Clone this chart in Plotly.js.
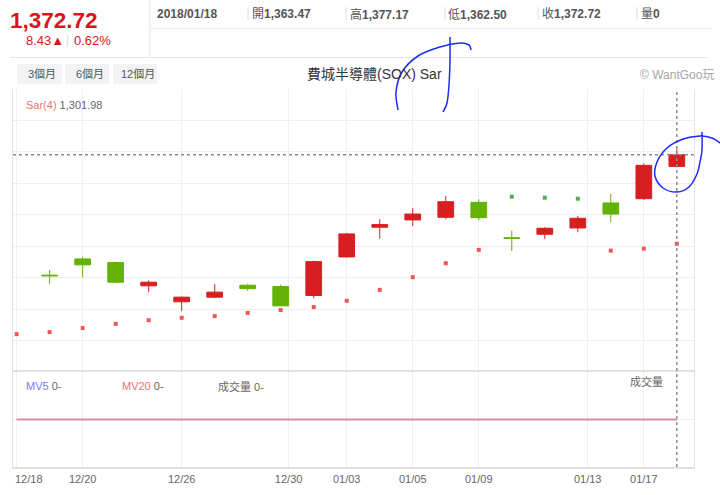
<!DOCTYPE html>
<html>
<head>
<meta charset="utf-8">
<script src="https://cdn.plot.ly/plotly-3.0.1.min.js"></script>
<style>
html,body{margin:0;padding:0;background:#fff;}
#chart{width:720px;height:495px;}
</style>
</head>
<body>
<div id="chart"></div>
<script>
// ---- data ----
const dates = ['12/18','12/19','12/20','12/21','12/22','12/26','12/27','12/28','12/29','01/02','01/03','01/04','01/05','01/08','01/09','01/10','01/11','01/12','01/16','01/17','01/18'];
const openVals  = [null,1277.0,1289.9,1287.0,1268.5,1255.8,1259.5,1269.0,1267.9,1260.8,1291.5,1315.1,1320.9,1323.0,1334.9,1306.7,1309.5,1314.5,1334.4,1337.8,1363.47];
const highVals  = [null,1281.2,1291.7,1287.8,1272.7,1260.0,1269.8,1270.1,1269.5,1288.6,1310.6,1321.4,1330.4,1339.9,1337.3,1312.4,1315.1,1324.1,1341.5,1365.9,1377.17];
const lowVals   = [null,1270.1,1275.1,1270.6,1263.5,1248.6,1258.7,1264.5,1252.3,1258.7,1291.0,1306.0,1316.1,1321.4,1320.6,1296.3,1305.6,1311.1,1319.1,1336.8,1362.50];
const closeVals = [null,1276.5,1285.2,1271.4,1271.4,1259.5,1263.5,1266.3,1252.6,1287.8,1309.8,1317.2,1325.6,1335.4,1322.7,1306.3,1314.3,1322.2,1325.6,1364.29,1372.72];
const sarVals   = [1230.1,1231.7,1234.9,1238.3,1241.2,1243.1,1244.4,1247.0,1249.2,1251.6,1256.6,1265.3,1275.4,1286.5,1297.1,1339.4,1338.6,1337.8,1296.5,1298.1,1301.98];
const volumeVals = [0,0,0,0,0,0,0,0,0,0,0,0,0,0,0,0,0,0,0,0,0];
const mv5Vals    = [0,0,0,0,0,0,0,0,0,0,0,0,0,0,0,0,0,0,0,0,0];
const mv20Vals   = [0,0,0,0,0,0,0,0,0,0,0,0,0,0,0,0,0,0,0,0,0];
const tickPos    = [0,2,5,8.24,10,12,14,17.3,19];
const tickLabels = ['12/18','12/20','12/26','12/30','01/03','01/05','01/09','01/13','01/17'];
const titleText = '費城半導體(SOX) Sar';
const fullDate = '2018/01/18';

// ---- helpers ----
const idx = dates.map((d,i)=>i);
const W=720,H=495,L=13,R=26,T=89,B=28;
const pw=W-L-R, ph=H-T-B;
const fx=x=>(x-L)/pw, fy=y=>(H-B-y)/ph;
const fmt=v=>v.toLocaleString('en-US',{minimumFractionDigits:2,maximumFractionDigits:2});
const n=dates.length-1;
const lastC=closeVals[n], prevC=closeVals[n-1];
const chg=lastC-prevC, pct=chg/prevC*100;
const FONT='"Liberation Sans", Arial, "Noto Sans CJK TC", sans-serif';

function smoothPath(pts){
  let d='M'+fx(pts[0][0])+','+fy(pts[0][1]);
  for(let i=0;i<pts.length-1;i++){
    const p0=pts[Math.max(0,i-1)],p1=pts[i],p2=pts[i+1],p3=pts[Math.min(pts.length-1,i+2)];
    const c1=[p1[0]+(p2[0]-p0[0])/6,p1[1]+(p2[1]-p0[1])/6];
    const c2=[p2[0]-(p3[0]-p1[0])/6,p2[1]-(p3[1]-p1[1])/6];
    d+=' C'+fx(c1[0])+','+fy(c1[1])+' '+fx(c2[0])+','+fy(c2[1])+' '+fx(p2[0])+','+fy(p2[1]);
  }
  return d;
}

const sarColors = sarVals.map((s,i)=> (closeVals[i]!==null && s>closeVals[i]) ? '#4caf50' : '#f25555');

const traces = [
  {type:'candlestick', x:idx, open:openVals, high:highVals, low:lowVals, close:closeVals,
   xaxis:'x', yaxis:'y',
   increasing:{line:{color:'#d71f22',width:1}, fillcolor:'#d71f22'},
   decreasing:{line:{color:'#63b204',width:1}, fillcolor:'#63b204'},
   whiskerwidth:0, hoverinfo:'skip', showlegend:false},
  {type:'scatter', mode:'markers', x:idx, y:sarVals, xaxis:'x', yaxis:'y',
   marker:{symbol:'square', size:4, color:sarColors}, hoverinfo:'skip', showlegend:false},
  {type:'bar', x:idx, y:volumeVals, xaxis:'x', yaxis:'y2', marker:{color:'#d71f22'}, hoverinfo:'skip', showlegend:false},
  {type:'scatter', mode:'lines', x:idx, y:mv5Vals, xaxis:'x', yaxis:'y2', line:{color:'#8080ff',width:1}, hoverinfo:'skip', showlegend:false},
  {type:'scatter', mode:'lines', x:idx, y:mv20Vals, xaxis:'x', yaxis:'y2', line:{color:'#de87a6',width:2}, hoverinfo:'skip', showlegend:false}
];

const splitY = (H-B-372)/ph;

const shapes = [
  // header lines
  {type:'line',xref:'paper',yref:'paper',x0:fx(150),x1:fx(150),y0:fy(0),y1:fy(57),line:{color:'#e3e3e3',width:1}},
  {type:'line',xref:'paper',yref:'paper',x0:fx(150),x1:fx(712),y0:fy(28.5),y1:fy(28.5),line:{color:'#eeeeee',width:1}},
  {type:'line',xref:'paper',yref:'paper',x0:fx(10),x1:fx(708),y0:fy(57.5),y1:fy(57.5),line:{color:'#e6e6e6',width:1}},
  // buttons
  {type:'rect',xref:'paper',yref:'paper',x0:fx(17),x1:fx(62),y0:fy(64),y1:fy(84),fillcolor:'#f3f3f3',line:{width:0},layer:'below'},
  {type:'rect',xref:'paper',yref:'paper',x0:fx(65),x1:fx(109),y0:fy(64),y1:fy(84),fillcolor:'#f3f3f3',line:{width:0},layer:'below'},
  {type:'rect',xref:'paper',yref:'paper',x0:fx(113),x1:fx(157),y0:fy(64),y1:fy(84),fillcolor:'#f3f3f3',line:{width:0},layer:'below'},
  // crosshair
  {type:'line',xref:'paper',yref:'y',x0:0,x1:1,y0:lastC,y1:lastC,line:{color:'#8c8c8c',width:1.5,dash:'dot'}},
  {type:'line',xref:'x',yref:'paper',x0:n,x1:n,y0:0,y1:1,line:{color:'#8c8c8c',width:1.5,dash:'dot'}},
  // hand-drawn blue marks
  {type:'path',xref:'paper',yref:'paper',path:smoothPath([[398,110],[396,92],[402,72],[418,56],[440,47],[460,43],[469,45],[471,50]]),line:{color:'#1f2bf0',width:1.5}},
  {type:'path',xref:'paper',yref:'paper',path:smoothPath([[450,37],[450,60],[449,85],[447,103],[443,112]]),line:{color:'#1f2bf0',width:1.5}},
  {type:'path',xref:'paper',yref:'paper',path:smoothPath([[702,132],[702,150],[700,162],[697,174],[689,187],[677,192],[663,188],[655,176],[657,162],[667,148],[683,139],[700,136],[712,138],[720,143]]),line:{color:'#1f2bf0',width:1.5}}
];
[248,346,445,538,637].forEach(x=>shapes.push({type:'line',xref:'paper',yref:'paper',x0:fx(x),x1:fx(x),y0:fy(7),y1:fy(20),line:{color:'#dddddd',width:1}}));

function ann(x,y,text,opts){
  return Object.assign({xref:'paper',yref:'paper',x:fx(x),y:fy(y),text:text,showarrow:false,xanchor:'left',yanchor:'middle',
    font:{family:FONT,size:12,color:'#666'}},opts||{});
}
const annotations = [
  ann(8,20,'<b>'+fmt(lastC)+'</b>',{font:{family:FONT,size:22.5,color:'#d9141b'}}),
  ann(24,40,chg.toFixed(2)+'▲',{font:{family:FONT,size:13,color:'#d9141b'}}),
  ann(64,40,'|',{font:{family:FONT,size:12,color:'#dddddd'}}),
  ann(72,40,pct.toFixed(2)+'%',{font:{family:FONT,size:13,color:'#d9141b'}}),
  ann(155,14,'<b>'+fullDate+'</b>',{font:{family:FONT,size:12,color:'#555'}}),
  ann(250,14,'開<b>'+fmt(openVals[n])+'</b>',{font:{family:FONT,size:12,color:'#555'}}),
  ann(348,14,'高<b>'+fmt(highVals[n])+'</b>',{font:{family:FONT,size:12,color:'#555'}}),
  ann(446,14,'低<b>'+fmt(lowVals[n])+'</b>',{font:{family:FONT,size:12,color:'#555'}}),
  ann(540,14,'收<b>'+fmt(closeVals[n])+'</b>',{font:{family:FONT,size:12,color:'#555'}}),
  ann(639,14,'量<b>'+volumeVals[n]+'</b>',{font:{family:FONT,size:12,color:'#555'}}),
  ann(26,74,'3個月',{font:{family:FONT,size:11,color:'#555'}}),
  ann(74,74,'6個月',{font:{family:FONT,size:11,color:'#555'}}),
  ann(119,74,'12個月',{font:{family:FONT,size:11,color:'#555'}}),
  ann(374,74,titleText,{xanchor:'center',font:{family:FONT,size:14,color:'#333'}}),
  ann(716,75,'© WantGoo玩',{xanchor:'right',font:{family:FONT,size:12,color:'#a6a6a6'}}),
  ann(24,105,'<span style="color:#f07272">Sar(4)</span> '+fmt(sarVals[n]),{font:{family:FONT,size:11,color:'#666'}}),
  ann(24,386,'<span style="color:#7b7bff">MV5</span> '+mv5Vals[n]+'-',{font:{family:FONT,size:11,color:'#666'}}),
  ann(120,386,'<span style="color:#f07272">MV20</span> '+mv20Vals[n]+'-',{font:{family:FONT,size:11,color:'#666'}}),
  ann(216,386,'成交量 '+volumeVals[n]+'-',{font:{family:FONT,size:11,color:'#666'}}),
  ann(628,381,'成交量',{font:{family:FONT,size:11,color:'#666'}}),
  // first date label is kept inside the plot's left edge, as in the reference
  ann(13,478.5,tickLabels[0],{font:{family:FONT,size:11,color:'#666'}})
];
const shownTickText = tickLabels.map((t,i)=> i===0 ? '' : t);

const layout = {
  width:W, height:H,
  margin:{l:L,r:R,t:T,b:B,pad:0},
  paper_bgcolor:'#ffffff', plot_bgcolor:'#ffffff',
  showlegend:false, hovermode:false, dragmode:false,
  boxgap:0.32,
  font:{family:FONT,size:11,color:'#666'},
  xaxis:{type:'linear', range:[-0.11,20.52], anchor:'y2',
    tickmode:'array', tickvals:tickPos, ticktext:shownTickText,
    showgrid:true, gridcolor:'#efefef', gridwidth:1, zeroline:false,
    showline:true, linecolor:'#e2e2e2', linewidth:2, mirror:true,
    ticks:'', ticklabelstandoff:1,
    tickfont:{family:FONT,size:11,color:'#666'},
    rangeslider:{visible:false}, fixedrange:true},
  yaxis:{domain:[splitY,1], range:[1200,1425], anchor:'x', dtick:25, tick0:1200,
    showticklabels:false, ticks:'', showgrid:true, gridcolor:'#efefef', zeroline:false,
    showline:true, linecolor:'#e2e2e2', linewidth:1, mirror:true, fixedrange:true},
  yaxis2:{domain:[0,splitY], range:[-1,1], anchor:'x', dtick:1, tick0:0,
    showticklabels:false, ticks:'', showgrid:true, gridcolor:'#efefef', zeroline:false,
    showline:true, linecolor:'#e2e2e2', linewidth:1, mirror:true, fixedrange:true},
  shapes:shapes,
  annotations:annotations
};

Plotly.newPlot('chart', traces, layout, {staticPlot:true, displayModeBar:false});
</script>
</body>
</html>
